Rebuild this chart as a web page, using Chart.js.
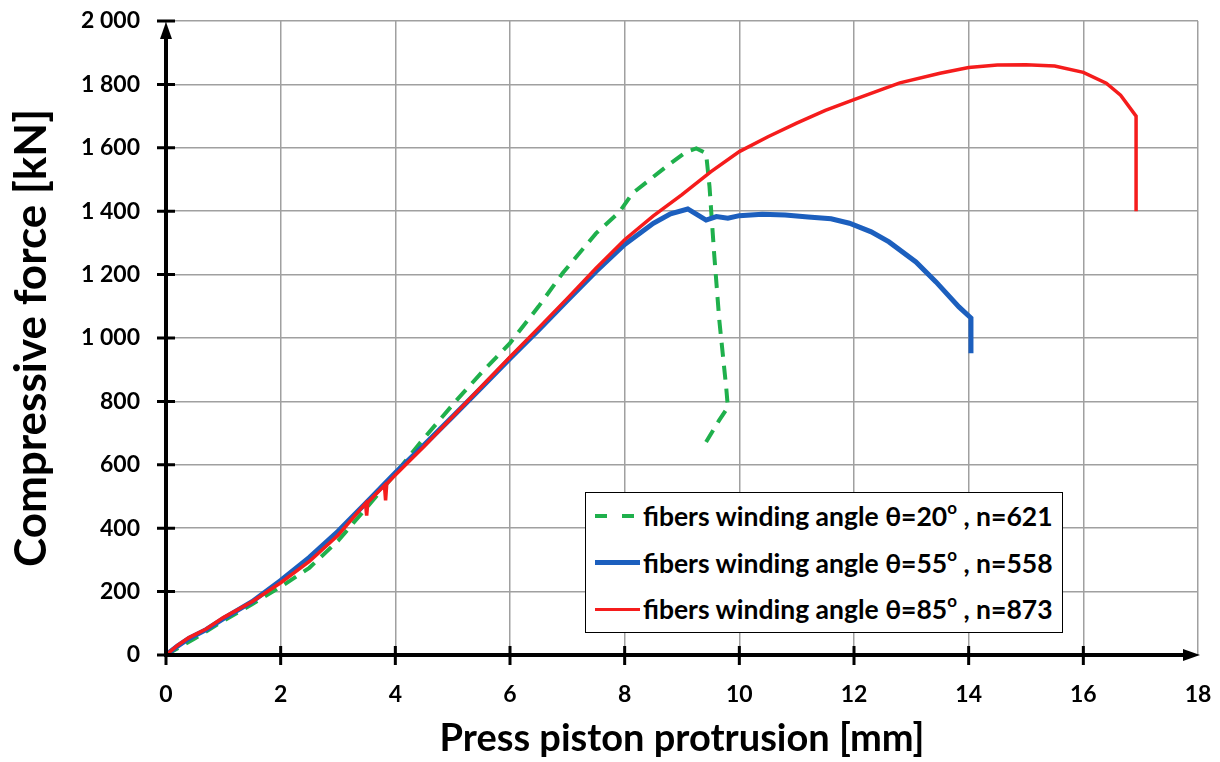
<!DOCTYPE html>
<html>
<head>
<meta charset="utf-8">
<script src="https://cdn.jsdelivr.net/npm/chart.js@4.4.1/dist/chart.umd.min.js"></script>
<style>
  body { margin: 0; background: #fff; }
  #wrap { position: relative; width: 1220px; height: 762px; }
  #legend {
    position: absolute; left: 585px; top: 492px; width: 478px; height: 141px;
    border: 1.5px solid #000; background: #fff; box-sizing: border-box;
    font-family: Lato, "Open Sans", sans-serif; font-weight: bold; font-size: 26.5px; color: #000;
    padding-top: 0px;
  }
  #legend .row { display: flex; align-items: center; height: 46.5px; padding-left: 9px; }
  #legend .swatch { width: 45px; height: 5px; margin-right: 3px; flex: none; }
  #legend sup { font-size: 17px; position: relative; top: -2px; vertical-align: super; line-height: 0; }
</style>
</head>
<body>
<div id="wrap">
  <canvas id="myChart" width="1220" height="762"></canvas>
  <div id="legend"></div>
</div>
<script>
// ******** data ********
// x = press piston protrusion [mm], y = compressive force [kN]

let angles = [20, 55, 85];
let counts = [621, 558, 873];

let greenX = [0, 0.5, 1.0, 1.5, 2.0, 2.5, 3.0, 3.5, 4.0, 4.43, 5.07, 5.5, 6.0, 6.5, 6.92, 7.5, 7.91, 8.14, 8.72, 9.07, 9.25, 9.42, 9.48, 9.56, 9.65, 9.77, 9.8, 9.65, 9.42];
let greenY = [0, 52, 108, 160, 215, 275, 360, 465, 572, 669, 804, 890, 984, 1100, 1205, 1330, 1398, 1457, 1540, 1587, 1598, 1583, 1477, 1268, 1057, 846, 782, 741, 672];

let blueX = [0, 0.2, 0.4, 0.7, 1.0, 1.5, 2.0, 2.5, 3.0, 3.5, 4.0, 4.5, 5.0, 5.5, 6.0, 6.5, 7.0, 7.5, 8.0, 8.5, 8.8, 9.1, 9.3, 9.42, 9.6, 9.8, 10.0, 10.4, 10.8, 11.2, 11.6, 11.92, 12.3, 12.61, 13.08, 13.43, 13.83, 14.04, 14.04, 14.04];
let blueY = [0, 28, 52, 80, 115, 168, 235, 308, 390, 482, 575, 662, 752, 843, 935, 1025, 1118, 1210, 1295, 1362, 1392, 1407, 1385, 1372, 1383, 1378, 1386, 1390, 1388, 1382, 1376, 1362, 1335, 1303, 1240, 1177, 1098, 1063, 1000, 952];

let redX = [0, 0.2, 0.4, 0.7, 1.0, 1.5, 2.0, 2.5, 3.0, 3.48, 3.5, 3.52, 3.81, 3.83, 3.85, 4.0, 4.5, 5.0, 5.5, 6.0, 6.5, 7.0, 7.5, 8.0, 8.5, 9.0, 9.5, 10.0, 10.5, 11.0, 11.5, 12.0, 12.5, 12.8, 13.5, 14.0, 14.5, 15.0, 15.5, 16.0, 16.4, 16.65, 16.92, 16.92, 16.92];
let redY = [0, 30, 55, 82, 118, 168, 228, 295, 378, 478, 440, 482, 535, 488, 540, 568, 658, 752, 846, 940, 1032, 1125, 1220, 1310, 1385, 1452, 1524, 1588, 1635, 1678, 1718, 1752, 1785, 1805, 1835, 1853, 1861, 1862, 1858, 1838, 1804, 1766, 1700, 1450, 1400];

let xTicks = [0, 2, 4, 6, 8, 10, 12, 14, 16, 18];
let yTicks = [0, 200, 400, 600, 800, 1000, 1200, 1400, 1600, 1800, 2000];

let colors = ['#1fb04c', '#1c5fbe', '#f51c1c'];

function toPoints(xs, ys) {
    let pts = [];
    for (let i = 0; i < xs.length; i++) {
        pts.push({ x: xs[i], y: ys[i] });
    }
    return pts;
}

function legendText(i) {
    return 'fibers winding angle \u03b8=' + angles[i] + '<sup>o</sup> , n=' + counts[i];
}

// black axes with arrows and crossing tick marks
const axesPlugin = {
    id: 'axesPlugin',
    afterDraw(chart) {
        const ctx = chart.ctx;
        const xs = chart.scales.x, ys = chart.scales.y;
        const x0 = xs.getPixelForValue(0), y0 = ys.getPixelForValue(0);
        const xEnd = xs.getPixelForValue(18), yTop = ys.getPixelForValue(2000);
        ctx.save();
        ctx.strokeStyle = '#000';
        ctx.fillStyle = '#000';
        ctx.lineWidth = 4;
        ctx.beginPath();
        ctx.moveTo(x0, y0 + 2);
        ctx.lineTo(x0, yTop + 10);
        ctx.moveTo(x0 - 2, y0);
        ctx.lineTo(xEnd - 10, y0);
        ctx.stroke();
        // arrow heads
        ctx.beginPath();
        ctx.moveTo(x0, yTop + 1);
        ctx.lineTo(x0 - 6, yTop + 18);
        ctx.lineTo(x0 + 6, yTop + 18);
        ctx.closePath();
        ctx.fill();
        ctx.beginPath();
        ctx.moveTo(xEnd + 2, y0);
        ctx.lineTo(xEnd - 15, y0 - 6);
        ctx.lineTo(xEnd - 15, y0 + 6);
        ctx.closePath();
        ctx.fill();
        // tick marks
        ctx.lineWidth = 3;
        ctx.beginPath();
        yTicks.forEach(v => {
            const py = ys.getPixelForValue(v);
            ctx.moveTo(x0 - 9, py);
            ctx.lineTo(x0 + 9, py);
        });
        xTicks.forEach(v => {
            if (v === 18) return;
            const px = xs.getPixelForValue(v);
            ctx.moveTo(px, y0 - 9);
            ctx.lineTo(px, y0 + 10);
        });
        ctx.stroke();
        ctx.restore();
    }
};

let ctx = document.getElementById('myChart').getContext('2d');

let myChart = new Chart(ctx, {
    type: 'scatter',
    data: {
        datasets: [
            {
                label: 'fibers winding angle \u03b8=20\u00b0 , n=621',
                data: toPoints(greenX, greenY),
                borderColor: colors[0],
                borderWidth: 4,
                borderDash: [14, 9],
                order: 3
            },
            {
                label: 'fibers winding angle \u03b8=55\u00b0 , n=558',
                data: toPoints(blueX, blueY),
                borderColor: colors[1],
                borderWidth: 5,
                order: 2
            },
            {
                label: 'fibers winding angle \u03b8=85\u00b0 , n=873',
                data: toPoints(redX, redY),
                borderColor: colors[2],
                borderWidth: 3.5,
                order: 1
            }
        ]
    },
    options: {
        responsive: false,
        animation: false,
        showLine: true,
        elements: {
            point: { radius: 0, hoverRadius: 0 },
            line: { tension: 0, fill: false, borderCapStyle: 'butt' }
        },
        layout: { padding: { top: 21, right: 22, left: 0, bottom: 0 } },
        plugins: {
            legend: { display: false },
            tooltip: { enabled: false }
        },
        scales: {
            x: {
                type: 'linear',
                min: 0,
                max: 18,
                afterFit: s => { s.height = 107; },
                afterBuildTicks: s => { s.ticks = xTicks.map(v => ({ value: v })); },
                // invisible tick marks only used to push the labels away from the axis
                grid: { color: '#a0a0a0', lineWidth: 1.5, drawTicks: true, tickLength: 26, tickColor: 'rgba(0,0,0,0)' },
                border: { display: false },
                ticks: {
                    color: '#000',
                    padding: 0,
                    font: { family: 'Lato', weight: 'bold', size: 23 }
                },
                title: {
                    display: true,
                    text: 'Press piston protrusion [mm]',
                    color: '#000',
                    font: { family: 'Lato', weight: 'bold', size: 38 },
                    padding: { top: 0, bottom: 0 }
                }
            },
            y: {
                type: 'linear',
                min: 0,
                max: 2000,
                afterFit: s => { s.width = 166; },
                afterBuildTicks: s => { s.ticks = yTicks.map(v => ({ value: v })); },
                grid: { color: '#a0a0a0', lineWidth: 1.5, drawTicks: true, tickLength: 26, tickColor: 'rgba(0,0,0,0)' },
                border: { display: false },
                ticks: {
                    color: '#000',
                    padding: 0,
                    font: { family: 'Lato', weight: 'bold', size: 23 },
                    callback: v => String(v).replace(/\B(?=(\d{3})+(?!\d))/g, ' ')
                },
                title: {
                    display: true,
                    text: 'Compressive force [kN]',
                    color: '#000',
                    font: { family: 'Lato', weight: 'bold', size: 44 },
                    padding: { top: 5, bottom: 0 }
                }
            }
        }
    },
    plugins: [axesPlugin]
});

// legend box inside the plot, built from the datasets
let legendBox = document.getElementById('legend');
myChart.data.datasets.forEach((ds, i) => {
    let row = document.createElement('div');
    row.className = 'row';
    let sw = document.createElement('span');
    sw.className = 'swatch';
    if (ds.borderDash) {
        sw.style.background = 'repeating-linear-gradient(to right, ' + ds.borderColor + ' 0 12px, transparent 12px 27px)';
        sw.style.height = '4px';
    } else {
        sw.style.background = ds.borderColor;
        sw.style.height = ds.borderWidth + 'px';
    }
    let txt = document.createElement('span');
    txt.innerHTML = legendText(i);
    row.appendChild(sw);
    row.appendChild(txt);
    legendBox.appendChild(row);
});
</script>
</body>
</html>
